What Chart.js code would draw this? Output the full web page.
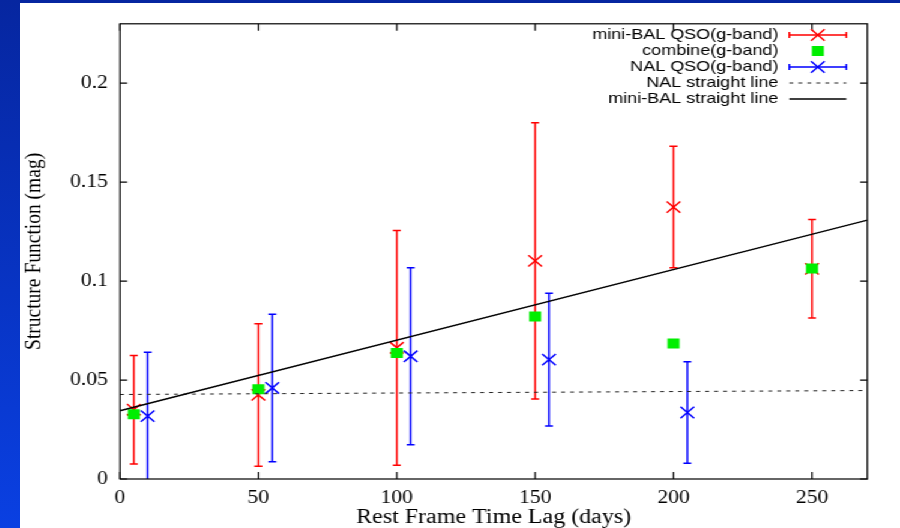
<!DOCTYPE html>
<html>
<head>
<meta charset="utf-8">
<script src="https://cdn.jsdelivr.net/npm/chart.js@4/dist/chart.umd.min.js"></script>
<style>
  html, body { margin: 0; padding: 0; }
  body {
    width: 900px; height: 528px; overflow: hidden; position: relative;
    background: linear-gradient(to bottom, #0626a0 0%, #0834c4 55%, #0a40e2 100%);
  }
  /* the original plot is stretched sideways, so the canvas is too */
  #wrap {
    position: absolute; left: 20px; top: 3px; width: 733px; height: 525px;
    background: #fff; transform: scaleX(1.2005); transform-origin: 0 0;
  }
  canvas { display: block; }
</style>
</head>
<body>
<div id="wrap"><canvas id="sf" width="733" height="525"></canvas></div>
<script>
// structure function vs rest-frame lag (g-band)
const lagMini = [5, 50, 100, 150, 200, 250];
const sfMini  = [0.0350, 0.0425, 0.0663, 0.1102, 0.1374, 0.1062];
const errMini = [0.0274, 0.0360, 0.0593, 0.0698, 0.0307, 0.0249];

const lagComb = [5, 50, 100, 150, 200, 250];
const sfComb  = [0.0327, 0.0454, 0.0637, 0.0821, 0.0685, 0.1064];

const lagNal = [10, 55, 105, 155, 205];
const sfNal  = [0.0318, 0.0460, 0.0620, 0.0603, 0.0336];
const errNal = [0.0322, 0.0373, 0.0447, 0.0335, 0.0257];

// straight-line fits, end points
const lineLag   = [0, 270];
const nalLine   = [0.0427, 0.0447];
const miniLine  = [0.0345, 0.1308];

const xTicks = [0, 50, 100, 150, 200, 250];
const yTicks = [0, 0.05, 0.1, 0.15, 0.2];

const RED = '#ff0000', GREEN = '#00ee00', BLUE = '#0000ff';
const serif = "'Liberation Serif', 'DejaVu Serif', serif";
const sans  = "'Liberation Sans', Arial, sans-serif";

const pts = (xs, ys) => xs.map((x, i) => ({ x, y: ys[i] }));

const CAP = 3.3;

const errorBars = {
  id: 'errorBars',
  beforeDatasetsDraw(chart) {
    const { ctx, chartArea: a, scales: { x, y } } = chart;
    ctx.save();
    ctx.beginPath();
    ctx.rect(a.left, a.top, a.right - a.left, a.bottom - a.top);
    ctx.clip();
    chart.data.datasets.forEach(ds => {
      if (!ds.errors) return;
      ctx.strokeStyle = ds.borderColor;
      ctx.lineWidth = 1.5;
      ds.data.forEach((p, i) => {
        const px  = x.getPixelForValue(p.x);
        const top = y.getPixelForValue(p.y + ds.errors[i]);
        const bot = y.getPixelForValue(p.y - ds.errors[i]);
        ctx.beginPath();
        ctx.moveTo(px, top); ctx.lineTo(px, bot);
        ctx.moveTo(px - CAP, top); ctx.lineTo(px + CAP, top);
        ctx.moveTo(px - CAP, bot); ctx.lineTo(px + CAP, bot);
        ctx.stroke();
      });
    });
    ctx.restore();
  }
};

// box with inward ticks on all four sides (gnuplot look)
const frame = {
  id: 'frame',
  afterDatasetsDraw(chart) {
    const { ctx, chartArea: a, scales: { x, y } } = chart;
    ctx.save();
    ctx.strokeStyle = '#000';
    ctx.lineWidth = 1.2;
    ctx.strokeRect(a.left, a.top, a.right - a.left, a.bottom - a.top);
    ctx.beginPath();
    x.ticks.forEach(t => {
      const px = x.getPixelForValue(t.value);
      ctx.moveTo(px, a.bottom); ctx.lineTo(px, a.bottom - 7);
      ctx.moveTo(px, a.top);    ctx.lineTo(px, a.top + 7);
    });
    y.ticks.forEach(t => {
      const py = y.getPixelForValue(t.value);
      ctx.moveTo(a.left, py);  ctx.lineTo(a.left + 6, py);
      ctx.moveTo(a.right, py); ctx.lineTo(a.right - 6, py);
    });
    ctx.stroke();
    ctx.restore();
  }
};

function drawCross(ctx, cx, cy, r) {
  const d = r * Math.SQRT1_2;
  ctx.beginPath();
  ctx.moveTo(cx - d, cy - d); ctx.lineTo(cx + d, cy + d);
  ctx.moveTo(cx - d, cy + d); ctx.lineTo(cx + d, cy - d);
  ctx.stroke();
}

// legend: text right-aligned, sample on its right
const keyBox = {
  id: 'keyBox',
  afterDraw(chart) {
    const { ctx } = chart;
    const textRight = 631.7, s0 = 640.8, s1 = 688.3, sc = (s0 + s1) / 2;
    ctx.save();
    ctx.font = `15px ${sans}`;
    ctx.textAlign = 'right';
    ctx.textBaseline = 'middle';
    chart.data.datasets.forEach((ds, i) => {
      const yy = 32 + i * 16;
      ctx.fillStyle = '#000';
      ctx.fillText(ds.label, textRight, yy);
      if (ds.errors) {
        ctx.strokeStyle = ds.borderColor;
        ctx.lineWidth = 1.5;
        ctx.beginPath();
        ctx.moveTo(s0, yy); ctx.lineTo(s1, yy);
        ctx.moveTo(s0, yy - 3); ctx.lineTo(s0, yy + 3);
        ctx.moveTo(s1, yy - 3); ctx.lineTo(s1, yy + 3);
        ctx.stroke();
        drawCross(ctx, sc, yy, 8);
      } else if (ds.pointStyle === 'rect') {
        ctx.fillStyle = ds.backgroundColor;
        ctx.fillRect(sc - 5, yy - 5, 10, 10);
      } else {
        ctx.strokeStyle = ds.borderColor;
        ctx.lineWidth = ds.borderWidth;
        ctx.setLineDash(ds.borderDash || []);
        ctx.beginPath();
        ctx.moveTo(s0, yy); ctx.lineTo(s1, yy);
        ctx.stroke();
        ctx.setLineDash([]);
      }
    });
    ctx.restore();
  }
};

new Chart(document.getElementById('sf'), {
  type: 'scatter',
  data: {
    datasets: [
      { label: 'mini-BAL QSO(g-band)', data: pts(lagMini, sfMini), errors: errMini,
        borderColor: RED, backgroundColor: RED, pointStyle: 'crossRot',
        pointRadius: 8, pointBorderWidth: 1.5, order: 5 },
      { label: 'combine(g-band)', data: pts(lagComb, sfComb),
        borderColor: GREEN, backgroundColor: GREEN, pointStyle: 'rect',
        pointRadius: 7.1, pointBorderWidth: 0, order: 4 },
      { label: 'NAL QSO(g-band)', data: pts(lagNal, sfNal), errors: errNal,
        borderColor: BLUE, backgroundColor: BLUE, pointStyle: 'crossRot',
        pointRadius: 8, pointBorderWidth: 1.5, order: 3 },
      { label: 'NAL straight line', data: pts(lineLag, nalLine), showLine: true,
        pointRadius: 0, borderColor: '#222', borderWidth: 1, borderDash: [3.3, 4.2], order: 2 },
      { label: 'mini-BAL straight line', data: pts(lineLag, miniLine), showLine: true,
        pointRadius: 0, borderColor: '#000', borderWidth: 1.5, order: 1 },
    ]
  },
  options: {
    responsive: false,
    animation: false,
    events: [],
    layout: { padding: { left: 0, right: 27.2, top: 19, bottom: 0 } },
    plugins: { legend: { display: false }, tooltip: { enabled: false } },
    scales: {
      x: {
        type: 'linear', min: 0, max: 270,
        afterBuildTicks: s => { s.ticks = xTicks.map(v => ({ value: v })); },
        afterFit: s => { s.height = 49; },
        grid: { display: false, drawTicks: false },
        border: { display: false },
        ticks: { padding: 8, color: '#000', font: { family: serif, size: 18 }, callback: v => String(v) },
        title: { display: true, text: 'Rest Frame Time Lag (days)', color: '#000',
                 padding: 0, font: { family: serif, size: 20, lineHeight: 1.0 } }
      },
      y: {
        type: 'linear', min: 0, max: 0.23,
        afterBuildTicks: s => { s.ticks = yTicks.map(v => ({ value: v })); },
        afterFit: s => { s.width = 83.3; },
        grid: { display: false, drawTicks: false },
        border: { display: false },
        ticks: { padding: 10, color: '#000', font: { family: serif, size: 18 }, callback: v => String(v) },
        title: { display: true, text: 'Structure Function (mag)', color: '#000',
                 padding: 0, font: { family: serif, size: 19.5, lineHeight: 1.2 } }
      }
    }
  },
  plugins: [errorBars, frame, keyBox]
});
</script>
</body>
</html>
